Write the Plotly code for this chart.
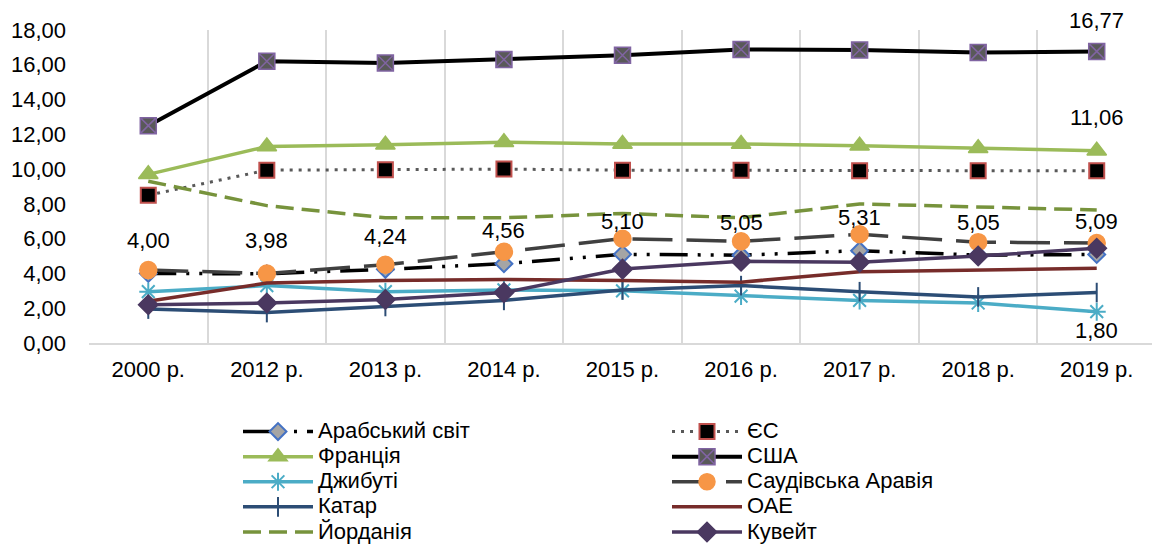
import plotly.graph_objects as go

years = ["2000 р.", "2012 р.", "2013 р.", "2014 р.", "2015 р.", "2016 р.", "2017 р.", "2018 р.", "2019 р."]

arab_world = [4.00, 3.98, 4.24, 4.56, 5.10, 5.05, 5.31, 5.05, 5.09]
eu = [8.50, 9.94, 9.97, 10.00, 9.94, 9.94, 9.90, 9.90, 9.90]
france = [9.70, 11.30, 11.40, 11.55, 11.45, 11.45, 11.35, 11.20, 11.06]
usa = [12.50, 16.20, 16.10, 16.30, 16.55, 16.88, 16.85, 16.70, 16.77]
djibouti = [2.95, 3.30, 2.95, 3.05, 3.00, 2.70, 2.45, 2.30, 1.80]
saudi = [4.20, 4.00, 4.50, 5.25, 6.00, 5.85, 6.25, 5.80, 5.75]
qatar = [1.95, 1.75, 2.10, 2.45, 3.05, 3.30, 2.95, 2.65, 2.90]
uae = [2.40, 3.45, 3.60, 3.65, 3.60, 3.50, 4.10, 4.20, 4.30]
jordan = [9.30, 7.90, 7.20, 7.20, 7.45, 7.20, 8.00, 7.80, 7.65]
kuwait = [2.20, 2.30, 2.50, 2.90, 4.25, 4.70, 4.65, 5.00, 5.45]

names = ["Арабський світ", "ЄС", "Франція", "США", "Джибуті",
         "Саудівська Аравія", "Катар", "ОАЕ", "Йорданія", "Кувейт"]

# The page body has an 8px margin, so the figure is 8px smaller on each axis
W, H = 1152, 539

fig = go.Figure()

def add(name, vals, color, width, dash=None, symbol=None, msize=0, mfill=None, mline=None, mlw=1.5):
    marker = dict(size=msize, symbol=symbol or "circle", color=mfill or color,
                  line=dict(color=mline or color, width=mlw))
    fig.add_trace(go.Scatter(
        x=years, y=vals, name=f'<span style="font-size:22px">{name}</span>',
        mode="lines+markers" if symbol else "lines",
        line=dict(color=color, width=width, dash=dash or "solid"),
        marker=marker,
    ))

add(names[0], arab_world, "#000000", 3.5, dash="28px,10px,3px,10px,3px,10px",
    symbol="diamond", msize=13, mfill="#A5A5A5", mline="#4472C4", mlw=2)
add(names[1], eu, "#595959", 3, dash="3px,6px",
    symbol="square", msize=15, mfill="#000000", mline="#C0504D", mlw=2)
add(names[2], france, "#9BBB59", 3.5, symbol="triangle-up", msize=17)
add(names[3], usa, "#000000", 4, symbol="square-x", msize=16, mfill="#595959", mline="#8064A2", mlw=1.5)
add(names[4], djibouti, "#4BACC6", 3.5, symbol="asterisk-open", msize=15, mline="#4BACC6", mlw=2)
add(names[5], saudi, "#404040", 3.5, dash="40px,14px", symbol="circle", msize=17, mfill="#F79646", mline="#F79646")
add(names[6], qatar, "#2C4D75", 3.5, symbol="line-ns-open", msize=14, mline="#2C4D75", mlw=2)
add(names[7], uae, "#772C2A", 3.5)
add(names[8], jordan, "#77933C", 3.5, dash="18px,8px")
add(names[9], kuwait, "#4A3860", 3.5, symbol="diamond", msize=15)

def fmt(v):
    return f"{v:.2f}".replace(".", ",")

lab_font = dict(size=22, color="#000000")
annotations = []
for x, v in zip(years, arab_world):
    annotations.append(dict(x=x, y=v, xref="x", yref="y", text=fmt(v), showarrow=False,
                            yshift=33, font=lab_font))
annotations.append(dict(x=years[-1], y=usa[-1], xref="x", yref="y", text=fmt(usa[-1]), showarrow=False,
                        yshift=31, font=lab_font, borderpad=0))
annotations.append(dict(x=years[-1], y=france[-1], xref="x", yref="y", text=fmt(france[-1]), showarrow=False,
                        yshift=33, font=lab_font))
annotations.append(dict(x=years[-1], y=djibouti[-1], xref="x", yref="y", text=fmt(djibouti[-1]), showarrow=False,
                        yshift=-19, font=lab_font))

fig.update_layout(
    width=W, height=H,
    margin=dict(l=81, r=4, t=22, b=204, autoexpand=False),
    paper_bgcolor="white", plot_bgcolor="white",
    separators=", ",
    font=dict(family="Liberation Sans, Arial, sans-serif", size=22, color="#000000"),
    showlegend=True,
    legend=dict(orientation="h", xref="container", yref="container",
                x=230 / W, xanchor="left", y=1 - 406 / H, yanchor="top",
                entrywidth=344, entrywidthmode="pixels", itemwidth=70,
                font=dict(size=17), tracegroupgap=0, bgcolor="rgba(0,0,0,0)"),
    annotations=annotations,
    xaxis=dict(type="category", range=[-0.5, 8.5], tickson="boundaries",
               showgrid=True, gridcolor="#D9D9D9", gridwidth=1.5,
               showline=True, linecolor="#D9D9D9", linewidth=1.5,
               ticks="", tickfont=dict(size=22), ticklabelstandoff=6),
    yaxis=dict(range=[0, 18], dtick=2, tickformat=".2f", showgrid=False,
               zeroline=False, showline=False, ticks="", tickfont=dict(size=22),
               ticklabelstandoff=22),
)

fig.write_html("out.html")
